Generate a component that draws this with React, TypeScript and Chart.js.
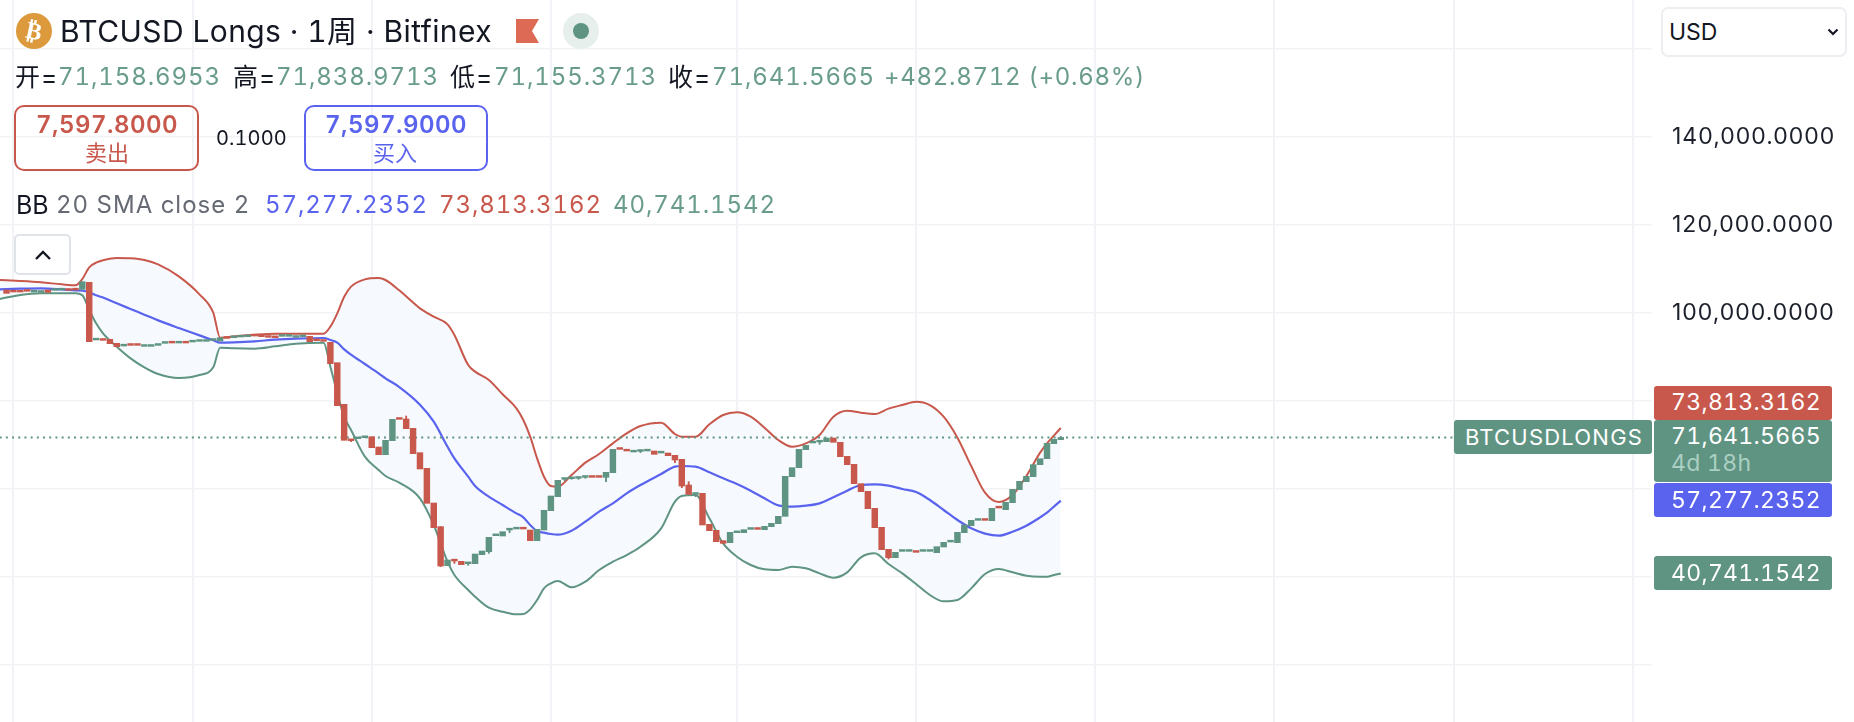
import React, { useEffect, useRef } from 'react';
import { Chart, registerables } from 'chart.js';

Chart.register(...registerables);

const GREEN = '#5f9482';
const RED = '#c8584c';
const BLUE = '#5a63ee';
const GRID = '#f2f3f6';
const UI_FONT = 'Inter, "Noto Sans CJK SC", sans-serif';

// weekly candles, left to right
const opens = [
  105160, 104860, 104860, 105000, 104700, 104630, 105160, 105080, 105160, 105230,
  105310, 105310, 106900, 93800, 93870, 93950, 93040, 92430, 92730, 92730,
  92350, 92350, 92580, 93040, 93260, 93110, 93260, 93340, 93490, 93490,
  93720, 93570, 94320, 94320, 94480, 94550, 94850, 94700, 94550, 94480,
  94630, 94630, 94400, 94550, 94630, 93800, 93640, 93260, 88640, 79170,
  71070, 71370, 71600, 71820, 69480, 67730, 70920, 75920, 75840, 73720,
  68190, 64630, 56750, 51370, 42500, 43720, 43490, 42960, 42960, 45010,
  45690, 49320, 49250, 50610, 50840, 50990, 50610, 48190, 50610, 55000,
  58190, 62130, 62280, 62360, 62580, 62730, 62730, 62580, 63640, 69100,
  68720, 68340, 68490, 68570, 68570, 68110, 68110, 67580, 66670, 60840,
  58720, 58950, 51900, 50540, 48190, 47730, 50000, 50000, 50760, 50910,
  50690, 51370, 52050, 53720, 62730, 64780, 68870, 70390, 70610, 70690,
  71520, 70540, 67350, 65540, 61140, 59400, 55540, 51220, 46220, 44320,
  45760, 45760, 45690, 45760, 45760, 45460, 46750, 47880, 47730, 50000,
  51600, 52810, 52960, 52730, 55760, 55230, 56820, 59780, 61600, 62730,
  65460, 66820, 70230, 71158.6953,
];
const closes = [
  104400, 104700, 104700, 104860, 105010, 105010, 104630, 105310, 105310, 105080,
  105160, 107050, 93420, 93950, 93720, 92960, 92280, 92580, 92580, 92580,
  92500, 92500, 92730, 93190, 93110, 93260, 93110, 93490, 93640, 93640,
  93870, 94320, 94170, 94480, 94630, 94700, 94700, 94550, 94400, 94320,
  94780, 94780, 94550, 94700, 93420, 93640, 93490, 88420, 78870, 71000,
  70920, 71520, 71750, 69320, 67730, 70990, 75760, 75760, 73640, 67960,
  64480, 56670, 51140, 42430, 43790, 43570, 42730, 43110, 45160, 45840,
  48950, 49470, 50230, 50760, 50990, 50840, 48190, 50760, 55080, 58340,
  61900, 62280, 62430, 62500, 62730, 62580, 62580, 63720, 68940, 68940,
  68570, 68490, 68640, 68720, 67810, 68260, 67510, 66520, 60610, 58720,
  58870, 51750, 50460, 47960, 47580, 50080, 50160, 50690, 50910, 50760,
  51450, 52130, 53720, 62810, 64780, 68940, 69850, 70540, 70760, 71520,
  70540, 67280, 65460, 61140, 59320, 55460, 51140, 46140, 44320, 45540,
  45910, 45910, 45540, 45910, 45910, 46820, 47810, 48030, 50080, 51750,
  52810, 52960, 52810, 55540, 55610, 56900, 59850, 61670, 62810, 65460,
  66820, 70310, 71220, 71641.5665,
];

// only candles with a visible wick
const wickIdx = [50, 58, 63, 65, 67, 70, 73, 81, 82, 83, 84, 87, 92, 97, 98, 99, 100, 118, 128, 153];
const wickLow = [70690, 73640, 42280, 43030, 42580, 45310, 50000, 61820, 62130, 62130, 62350, 61600, 68190, 65915, 60230, 58720, 58190, 70080, 44020, 71155.3713];
const wickHigh = [71070, 76520, 51370, 43720, 43110, 48950, 50760, 62280, 62430, 62500, 62730, 63720, 68640, 67580, 66670, 61600, 58870, 70760, 46220, 71838.9713];

// bollinger bands, read at these candles
const bandIdx = [
  -1, 2, 5, 8, 10, 11, 12, 13, 14, 16, 18, 20, 22, 25, 28, 30, 31, 33, 36, 39, 42, 46, 47, 48, 49, 50, 52, 54, 55, 57,
  60, 62, 64, 65, 67, 68, 70, 72, 74, 75, 76, 77, 78, 79, 80, 82, 84, 86, 88, 90, 92, 95, 97, 98, 100, 102, 104, 106,
  108, 110, 112, 114, 116, 118, 120, 122, 124, 126, 128, 130, 132, 134, 136, 138, 140, 142, 144, 146, 148, 150, 151, 152, 153,
];
const bandUpper = [
  107430, 107200, 106900, 106450, 106220, 107660, 110310, 111370, 111900, 112430, 112360, 111980, 110990, 108260, 104170, 100010, 94330, 94630, 95010, 95230, 95230, 95230, 96830, 99860, 103640, 105920, 107580, 107890, 107430, 105080,
  100990, 99100, 97360, 94930, 88110, 86600, 84700, 81450, 78260, 75610, 71820, 66900, 62730, 60610, 60460, 63110, 65920, 67890, 70310, 72580, 74250, 75010, 72430, 71820, 71820, 74630, 76750, 77360,
  76370, 73870, 71070, 69550, 70310, 72200, 76370, 77730, 77280, 76980, 78190, 79020, 79780, 79020, 76370, 71600, 65160, 59100, 56980, 58570, 62890, 68190, 70310, 72050, 73813.3162,
];
const bandMiddle = [
  105310, 105460, 105540, 105310, 105080, 105010, 104630, 103950, 103440, 102130, 100840, 99550, 98260, 96520, 94850, 93720, 93190, 93260, 93490, 93870, 94100, 94250, 93800, 93190, 91670, 90460, 88340, 86220, 85080, 83110,
  79100, 75230, 69550, 66900, 62730, 60610, 58190, 56290, 54400, 53490, 51750, 50380, 50010, 49700, 49550, 50460, 52510, 54780, 56670, 58950, 60840, 63340, 65010, 65160, 65010, 63720, 62350, 61070,
  59550, 57810, 56220, 55920, 56140, 56670, 58040, 59550, 60840, 60990, 60690, 59930, 59250, 57430, 55160, 52880, 50990, 49780, 49320, 50230, 51600, 53490, 54550, 55920, 57277.2352,
];
const bandLower = [
  103110, 104020, 104400, 104400, 104400, 103950, 100610, 97580, 95310, 92280, 89630, 87580, 86070, 85160, 85840, 87580, 92050, 91900, 91830, 92360, 92960, 93190, 87730, 81670, 76370, 73340, 67280, 64250, 62890, 61370,
  57810, 51750, 43410, 40380, 36980, 35460, 32960, 32050, 31440, 31520, 32580, 34700, 37350, 38490, 39020, 37580, 38870, 41520, 43410, 44930, 46820, 50990, 57050, 58340, 58570, 53260, 47580, 44550,
  42660, 41670, 41520, 42280, 41900, 40760, 39780, 40990, 44400, 45310, 42880, 40760, 38340, 35840, 34400, 34700, 37350, 40610, 41750, 40990, 40230, 40000, 40000, 40380, 40741.1542,
];

const lastPrice = 71641.5665;
const priceLineEnd = 210;

// half-year grid lines, in candle numbers
const xGridIdx = [1, 27, 53, 79, 106, 132, 158, 184, 210, 236];
const yTicks = [160000, 140000, 120000, 100000, 80000, 60000, 40000, 20000];
const yTickLabels = ['', '140,000.0000', '120,000.0000', '100,000.0000', '', '', '', ''];

const toPoints = (values: number[]) => values.map((y, i) => ({ x: bandIdx[i], y }));

const Txt: React.FC<{
  x: number;
  y: number;
  size: number;
  color?: string;
  weight?: number;
  spacing?: number;
  children: React.ReactNode;
}> = ({ x, y, size, color = '#131722', weight = 400, spacing = 0, children }) => (
  <span
    style={{
      position: 'absolute',
      left: x,
      top: y,
      transform: 'translateY(-50%)',
      fontFamily: UI_FONT,
      fontSize: size,
      fontWeight: weight,
      fontVariantNumeric: 'tabular-nums',
      color,
      letterSpacing: spacing,
      lineHeight: 1,
      whiteSpace: 'nowrap',
    }}
  >
    {children}
  </span>
);

const Box: React.FC<{ x: number; y: number; w: number; h: number; style: React.CSSProperties }> = ({ x, y, w, h, style }) => (
  <div style={{ position: 'absolute', left: x, top: y, width: w, height: h, boxSizing: 'border-box', ...style }} />
);

const Tag: React.FC<{ x: number; y: number; w: number; h: number; color: string }> = ({ x, y, w, h, color }) => (
  <Box x={x} y={y} w={w} h={h} style={{ background: color, borderRadius: 3 }} />
);

const tickSpacing = {
  id: 'tickSpacing',
  beforeDraw: (chart: any) => {
    chart.ctx.letterSpacing = '1px';
  },
};

const App: React.FC = () => {
  const canvasRef = useRef<HTMLCanvasElement>(null);

  useEffect(() => {
    if (!canvasRef.current) return;
    const chart = new Chart(canvasRef.current, {
      type: 'bar',
      plugins: [tickSpacing],
      data: {
        datasets: [
          {
            type: 'line',
            label: 'upper',
            data: toPoints(bandUpper),
            borderColor: RED,
            borderWidth: 2,
            pointRadius: 0,
            cubicInterpolationMode: 'monotone',
            fill: { target: '+2' },
            backgroundColor: '#f6faff',
            order: 7,
          },
          {
            type: 'line',
            label: 'middle',
            data: toPoints(bandMiddle),
            borderColor: BLUE,
            borderWidth: 2.2,
            pointRadius: 0,
            cubicInterpolationMode: 'monotone',
            order: 5,
          },
          {
            type: 'line',
            label: 'lower',
            data: toPoints(bandLower),
            borderColor: GREEN,
            borderWidth: 2,
            pointRadius: 0,
            cubicInterpolationMode: 'monotone',
            order: 6,
          },
          {
            type: 'line',
            label: 'last',
            data: [
              { x: -1, y: lastPrice },
              { x: priceLineEnd, y: lastPrice },
            ],
            borderColor: GREEN,
            borderWidth: 2,
            borderDash: [2, 4.2],
            pointRadius: 0,
            order: 4,
          },
          {
            type: 'bar',
            label: 'wick',
            data: wickIdx.map((x, i) => ({ x, y: [wickLow[i], wickHigh[i]] })),
            backgroundColor: wickIdx.map((x) => (closes[x] >= opens[x] ? GREEN : RED)),
            barThickness: 1.2,
            grouped: false,
            order: 2,
          },
          {
            type: 'bar',
            label: 'body',
            data: opens.map((o, i) => ({ x: i, y: [o, closes[i]] })),
            backgroundColor: opens.map((o, i) => (closes[i] >= o ? GREEN : RED)),
            barThickness: 5.8,
            minBarLength: 1.8,
            grouped: false,
            order: 1,
          },
        ],
      },
      options: {
        animation: false,
        responsive: false,
        layout: { padding: 0 },
        plugins: { legend: { display: false }, tooltip: { enabled: false } },
        scales: {
          x: {
            type: 'linear',
            offset: false,
            min: -0.948,
            max: 238.8,
            afterBuildTicks: (axis: any) => {
              axis.ticks = xGridIdx.map((value) => ({ value }));
            },
            afterFit: (axis: any) => {
              axis.height = 0;
              axis.paddingLeft = 0;
              axis.paddingRight = 0;
            },
            ticks: { display: false },
            border: { display: false },
            grid: { color: GRID, lineWidth: 2, drawTicks: false, offset: false },
          },
          y: {
            position: 'right',
            min: 6978,
            max: 171067,
            afterBuildTicks: (axis: any) => {
              axis.ticks = yTicks.map((value) => ({ value }));
            },
            afterFit: (axis: any) => {
              axis.width = 202;
              axis.paddingTop = 0;
              axis.paddingBottom = 0;
            },
            ticks: {
              padding: 20,
              color: '#1c202b',
              font: { family: 'Inter', size: 23 },
              callback: (_v: any, i: number) => yTickLabels[i],
            },
            border: { display: false },
            grid: { color: GRID, lineWidth: 1.5, drawTicks: false },
          },
        },
      },
    });
    return () => chart.destroy();
  }, []);

  return (
    <div style={{ position: 'absolute', left: 0, top: 0, width: 1854, height: 722, overflow: 'hidden', background: '#fff' }}>
      <canvas ref={canvasRef} width={1854} height={722} style={{ display: 'block', position: 'absolute', left: 0, top: 0 }} />

      {/* title row */}
      <Box x={16} y={13} w={36} h={36} style={{ borderRadius: '50%', background: '#dc9a3c' }} />
      <span style={{ position: 'absolute', left: 16, top: 13, width: 36, height: 36, lineHeight: '36px', textAlign: 'center', color: '#fff', fontFamily: 'DejaVu Sans', fontWeight: 700, fontSize: 24, transform: 'rotate(12deg)' }}>₿</span>
      <Txt x={60} y={31} size={30} spacing={0.4}>BTCUSD Longs · 1周 · Bitfinex</Txt>
      <svg style={{ position: 'absolute', left: 515, top: 19 }} width={25} height={25}>
        <path d="M1 0 H24 L17 12 L24 24 H1 Z" fill="#dd6a55" />
      </svg>
      <Box x={563} y={13} w={36} h={36} style={{ borderRadius: '50%', background: '#e7efec' }} />
      <Box x={573} y={23} w={16} h={16} style={{ borderRadius: '50%', background: GREEN }} />

      {/* OHLC row */}
      <Txt x={15} y={77} size={25} spacing={1}>开=</Txt>
      <Txt x={58} y={77} size={24} spacing={0.9} color="#6a9c8c">71,158.6953</Txt>
      <Txt x={233} y={77} size={25} spacing={1}>高=</Txt>
      <Txt x={276} y={77} size={24} spacing={0.9} color="#6a9c8c">71,838.9713</Txt>
      <Txt x={450} y={77} size={25} spacing={1}>低=</Txt>
      <Txt x={494} y={77} size={24} spacing={0.9} color="#6a9c8c">71,155.3713</Txt>
      <Txt x={668} y={77} size={25} spacing={1}>收=</Txt>
      <Txt x={712} y={77} size={24} spacing={0.9} color="#6a9c8c">71,641.5665</Txt>
      <Txt x={884} y={77} size={24} spacing={0.7} color="#6a9c8c">+482.8712 (+0.68%)</Txt>

      {/* sell / buy */}
      <Box x={14} y={105} w={185} h={66} style={{ border: `2px solid ${RED}`, borderRadius: 10 }} />
      <Txt x={36} y={125} size={24} weight={600} spacing={0.5} color={RED}>7,597.8000</Txt>
      <Txt x={85} y={153} size={22} color={RED}>卖出</Txt>
      <Txt x={216} y={138} size={20} spacing={0.1}>0.1000</Txt>
      <Box x={304} y={105} w={184} h={66} style={{ border: `2px solid ${BLUE}`, borderRadius: 10 }} />
      <Txt x={325} y={125} size={24} weight={600} spacing={0.5} color={BLUE}>7,597.9000</Txt>
      <Txt x={373} y={153} size={22} color={BLUE}>买入</Txt>

      {/* indicator legend */}
      <Txt x={16} y={205} size={25}>BB</Txt>
      <Txt x={56} y={205} size={24} spacing={1} color="#666a73">20 SMA close 2</Txt>
      <Txt x={265} y={205} size={24} spacing={0.9} color={BLUE}>57,277.2352</Txt>
      <Txt x={439} y={205} size={24} spacing={0.9} color={RED}>73,813.3162</Txt>
      <Txt x={613} y={205} size={24} spacing={0.9} color="#6a9c8c">40,741.1542</Txt>

      {/* collapse button */}
      <Box x={14} y={234} w={57} h={41} style={{ border: '2px solid #e0e3e8', borderRadius: 5, background: '#fff' }} />
      <svg style={{ position: 'absolute', left: 34, top: 249 }} width={18} height={12}>
        <path d="M2 10 L9 3 L16 10" fill="none" stroke="#131722" strokeWidth={2.4} />
      </svg>

      {/* currency select */}
      <Box x={1661} y={7} w={186} h={50} style={{ border: '2px solid #eceef1', borderRadius: 7, background: '#fff' }} />
      <Txt x={1669} y={32} size={23}>USD</Txt>
      <svg style={{ position: 'absolute', left: 1827, top: 28 }} width={12} height={9}>
        <path d="M1.5 1.5 L6 6 L10.5 1.5" fill="none" stroke="#131722" strokeWidth={2.2} />
      </svg>

      {/* price tags */}
      <Tag x={1654} y={386} w={178} h={34} color={RED} />
      <Txt x={1671} y={402} size={23} spacing={0.3} color="#fff">73,813.3162</Txt>
      <Tag x={1654} y={420} w={178} h={62} color={GREEN} />
      <Txt x={1671} y={436} size={23} spacing={0.3} color="#fff">71,641.5665</Txt>
      <Txt x={1671} y={463} size={23} spacing={0.3} color="#abcfc2">4d 18h</Txt>
      <Tag x={1654} y={483} w={178} h={34} color={BLUE} />
      <Txt x={1671} y={500} size={23} spacing={0.3} color="#fff">57,277.2352</Txt>
      <Tag x={1654} y={556} w={178} h={34} color={GREEN} />
      <Txt x={1671} y={573} size={23} spacing={0.3} color="#fff">40,741.1542</Txt>
      <Tag x={1454} y={420} w={198} h={34} color={GREEN} />
      <Txt x={1465} y={437} size={22} spacing={1.2} color="#fff">BTCUSDLONGS</Txt>
    </div>
  );
};

export default App;
